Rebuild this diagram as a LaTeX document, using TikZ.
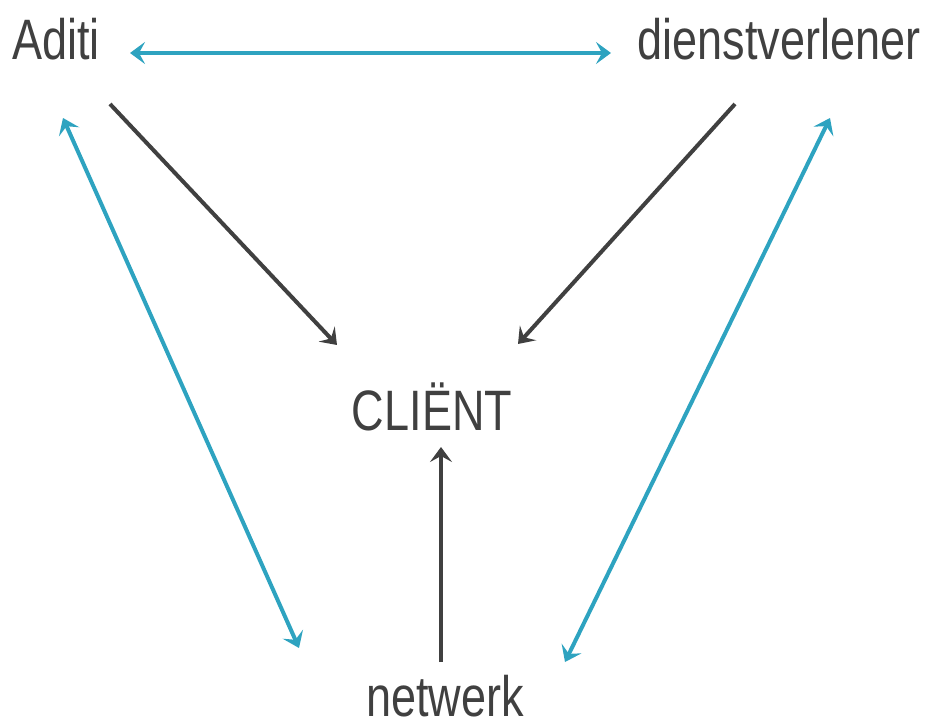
\documentclass[tikz,border=0pt]{standalone}
\usepackage{fontspec}
\newfontfamily\labelfont[FakeStretch=0.79]{Liberation Sans}
\usetikzlibrary{arrows.meta}
\definecolor{textgrey}{RGB}{64,64,64}
\definecolor{linkblue}{RGB}{46,163,192}
\tikzset{
	party/.style={anchor=base, inner sep=0pt, text=textgrey, font=\labelfont\fontsize{57}{60}\selectfont},
	flow/.style={draw=textgrey, line width=4pt, -{Stealth[length=15pt,width=22pt,inset=6pt]}},
	link/.style={draw=linkblue, line width=4pt, {Stealth[length=15pt,width=22pt,inset=6pt]}-{Stealth[length=15pt,width=22pt,inset=6pt]}}
}

\begin{document}
\begin{tikzpicture}[x=1pt,y=-1pt]
	\useasboundingbox (0,0) rectangle (927,725);
	\node [party] (aditi) at (56,60) {Aditi};
	\node [party] (dienst) at (779,60) {dienstverlener};
	\node [party] (client) at (432,430) {CLIËNT};
	\node [party] (netwerk) at (445,716) {netwerk};
	\foreach \name/\x/\y in
	{
		aditiR/130/53,
		dienstL/611/53,
		aditiB/110/104,
		aditiC/337/345,
		dienstB/735/104,
		dienstC/518/344,
		aditiT/63/118,
		netwerkL/299/648,
		dienstT/830/118,
		netwerkR/565/662,
		netwerkT/441/662,
		clientB/441/447
	}
	{
		\coordinate (\name) at (\x,\y);
	}
	\draw [link] (aditiR) -- (dienstL);
	\draw [link] (aditiT) -- (netwerkL);
	\draw [link] (dienstT) -- (netwerkR);
	\draw [flow] (aditiB) -- (aditiC);
	\draw [flow] (dienstB) -- (dienstC);
	\draw [flow] (netwerkT) -- (clientB);
\end{tikzpicture}
\end{document}
